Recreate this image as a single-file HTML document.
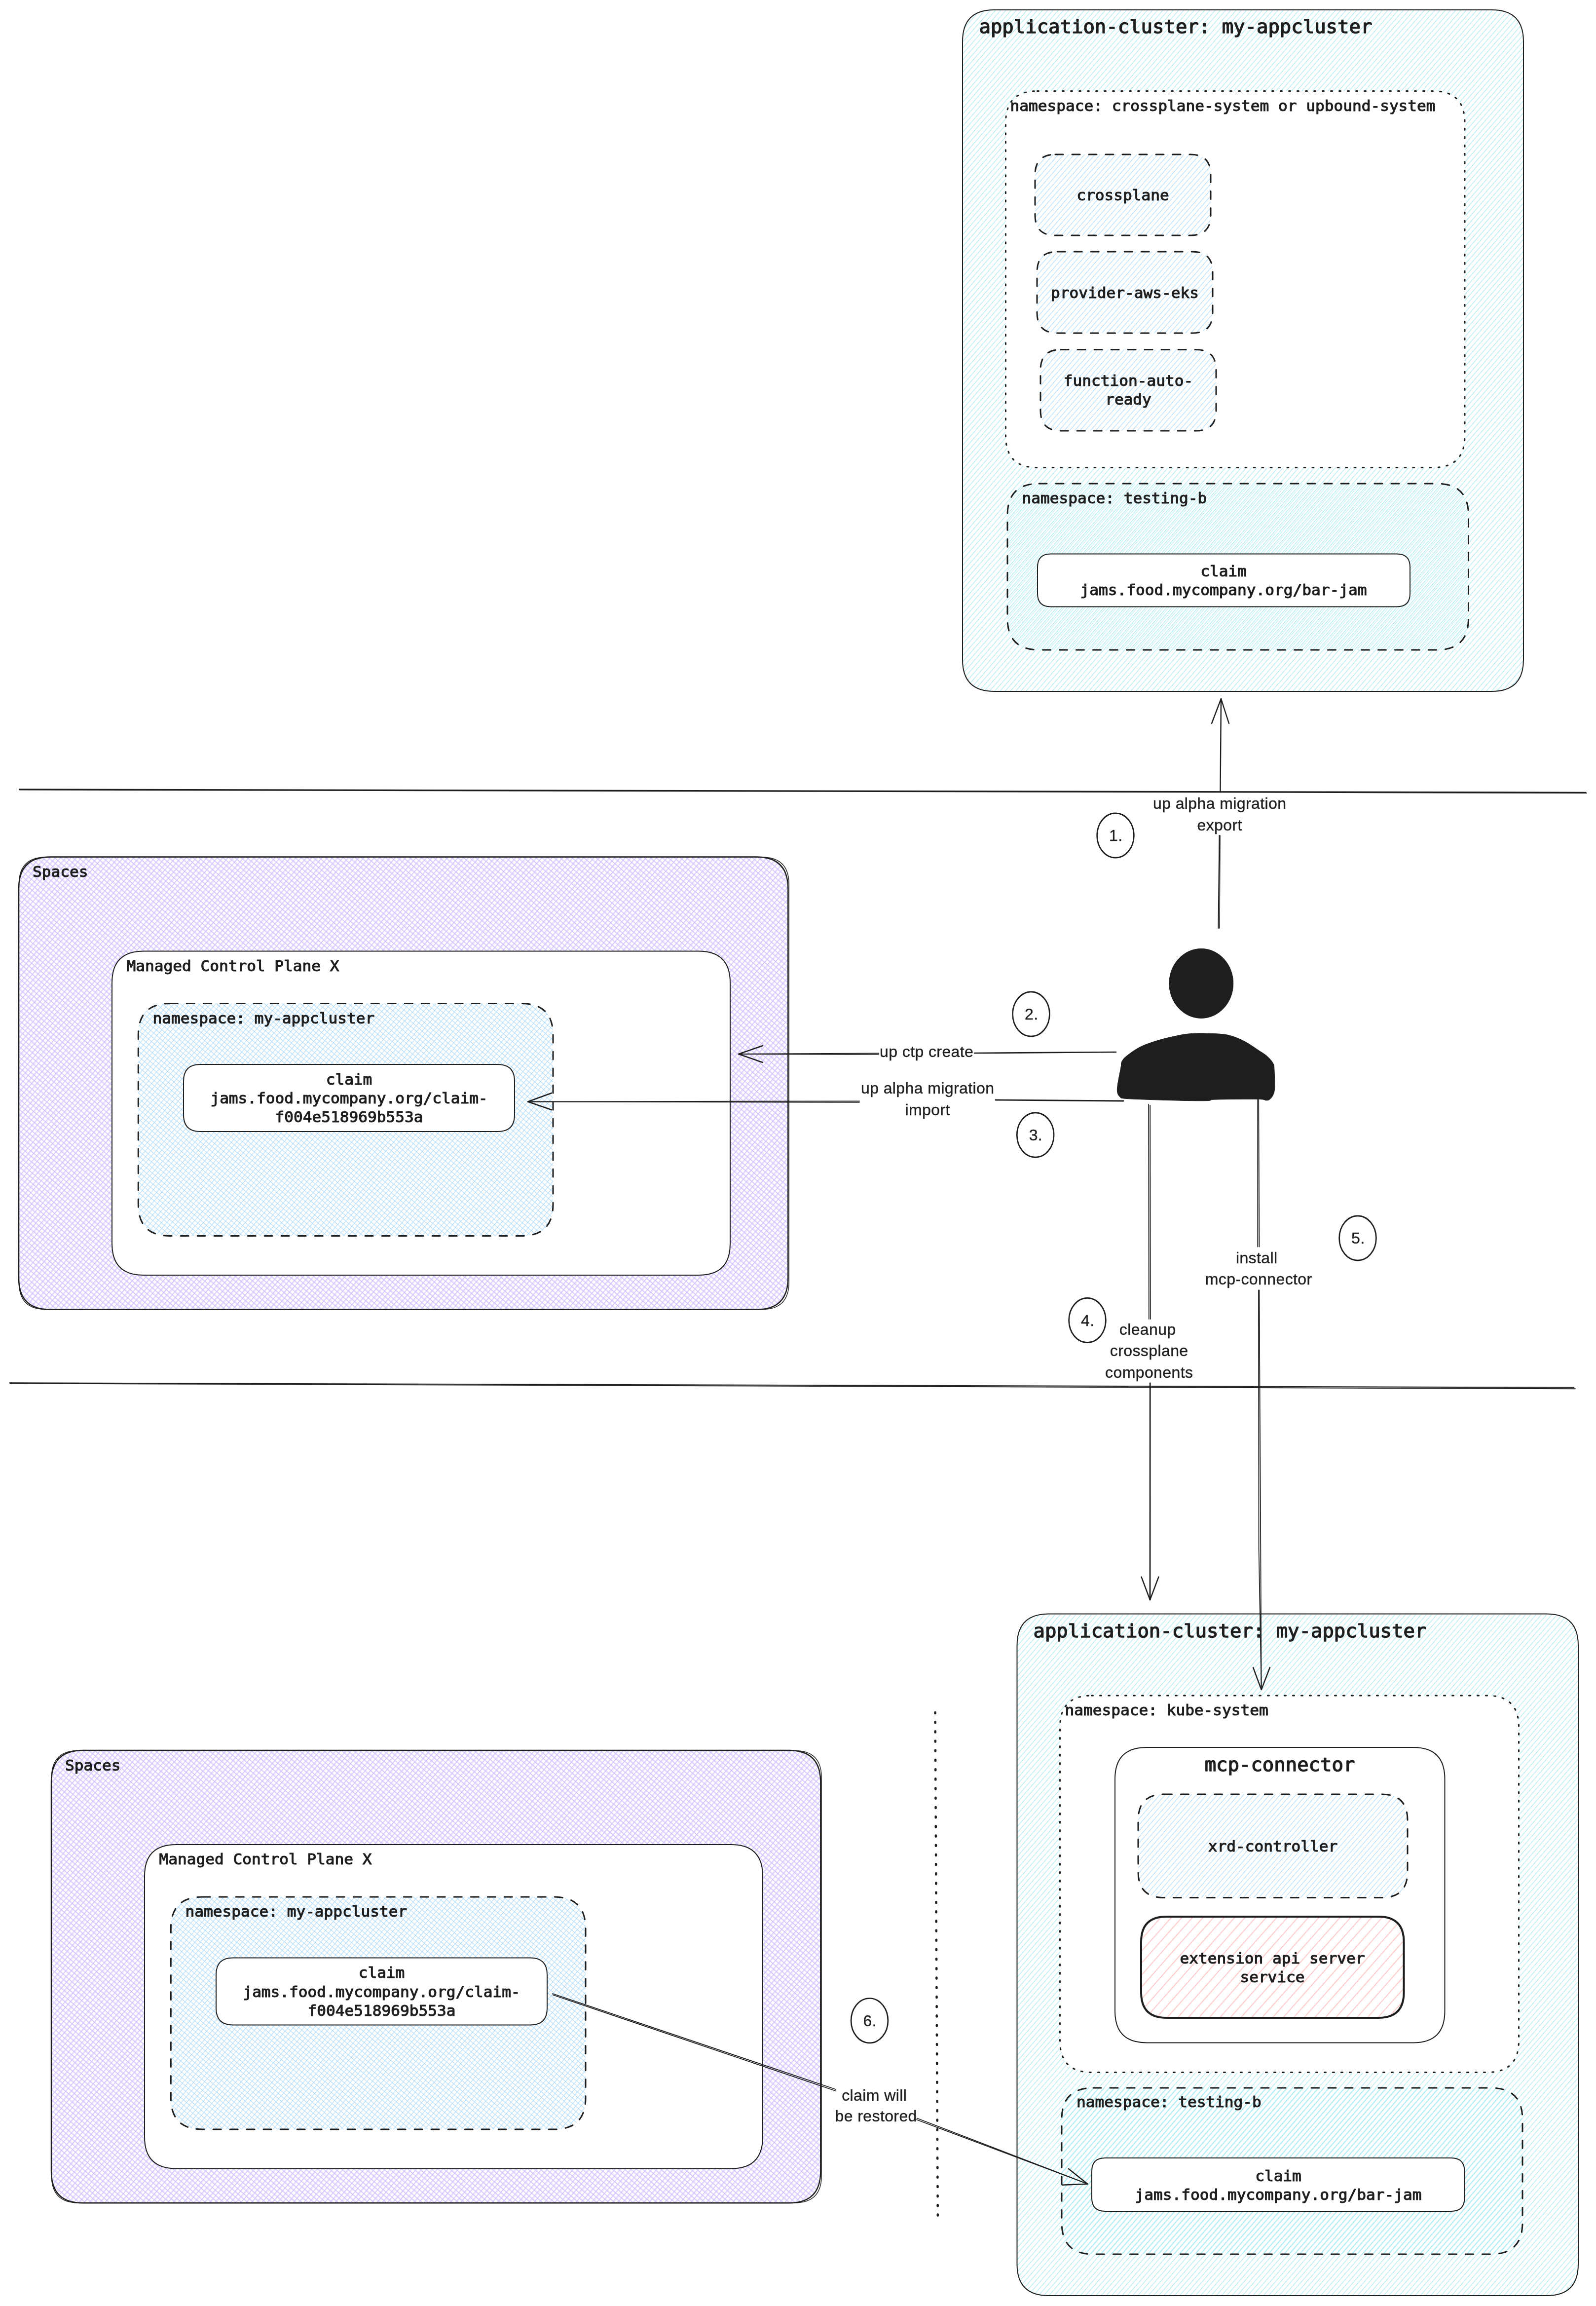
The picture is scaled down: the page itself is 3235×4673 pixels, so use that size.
<!DOCTYPE html>
<html><head><meta charset="utf-8"><title>migration diagram</title>
<style>
html,body{margin:0;padding:0;background:#fff;}
svg{display:block;will-change:transform;}
</style></head><body>
<svg width="3235" height="4673" viewBox="0 0 3235 4673">
<defs>
<pattern id="hcy" patternUnits="userSpaceOnUse" width="8" height="8" patternTransform="rotate(-49)"><rect x="0" y="0" width="8" height="1" fill="#99e9f2"/></pattern>
<pattern id="hcy2" patternUnits="userSpaceOnUse" width="8" height="8" patternTransform="rotate(-49) translate(0 3.3)"><rect x="0" y="0" width="8" height="1" fill="#99e9f2" fill-opacity="0.75"/></pattern>
<pattern id="hcy3" patternUnits="userSpaceOnUse" width="8" height="8" patternTransform="rotate(-49) translate(0 1)"><rect x="0" y="0" width="8" height="1" fill="#99e9f2" fill-opacity="0.8"/></pattern>
<pattern id="hbl" patternUnits="userSpaceOnUse" width="8" height="8" patternTransform="rotate(-49)"><rect x="0" y="0" width="8" height="1" fill="#a5d8ff"/></pattern>
<pattern id="hrd" patternUnits="userSpaceOnUse" width="16" height="16" patternTransform="rotate(-48.5)"><rect x="0" y="0" width="16" height="1.9" fill="#ffc9c9"/></pattern>
<pattern id="xpu" patternUnits="userSpaceOnUse" width="32" height="32" patternTransform="rotate(-49)"><rect x="0" y="0" width="32" height="1.3" fill="#d0bfff"/><rect x="0" y="0.6" width="32" height="1" fill="#d0bfff" fill-opacity="0.6"/><rect x="0" y="0" width="1.3" height="32" fill="#d0bfff"/><rect x="1.6" y="0" width="1" height="32" fill="#d0bfff" fill-opacity="0.6"/><rect x="0" y="8" width="32" height="1.3" fill="#d0bfff"/><rect x="0" y="9.8" width="32" height="1" fill="#d0bfff" fill-opacity="0.6"/><rect x="8" y="0" width="1.3" height="32" fill="#d0bfff"/><rect x="8.7" y="0" width="1" height="32" fill="#d0bfff" fill-opacity="0.6"/><rect x="0" y="16" width="32" height="1.3" fill="#d0bfff"/><rect x="0" y="17.1" width="32" height="1" fill="#d0bfff" fill-opacity="0.6"/><rect x="16" y="0" width="1.3" height="32" fill="#d0bfff"/><rect x="18.2" y="0" width="1" height="32" fill="#d0bfff" fill-opacity="0.6"/><rect x="0" y="24" width="32" height="1.3" fill="#d0bfff"/><rect x="0" y="26.4" width="32" height="1" fill="#d0bfff" fill-opacity="0.6"/><rect x="24" y="0" width="1.3" height="32" fill="#d0bfff"/><rect x="25.2" y="0" width="1" height="32" fill="#d0bfff" fill-opacity="0.6"/></pattern>
<pattern id="xbl" patternUnits="userSpaceOnUse" width="8" height="8" patternTransform="rotate(-49)"><rect x="0" y="0" width="8" height="1" fill="#a5d8ff"/><rect x="0" y="0" width="1" height="8" fill="#a5d8ff"/></pattern>
</defs>
<rect width="3235" height="4673" fill="#ffffff"/>
<path d="M39.0 1599.3 L3214.0 1605.7" fill="none" stroke="#1e1e1e" stroke-width="2" stroke-linecap="round" stroke-linejoin="round"/>
<path d="M40.0 1600.5 L3216.0 1607.0" fill="none" stroke="#1e1e1e" stroke-width="2" stroke-linecap="round" stroke-linejoin="round"/>
<path d="M19.5 2802.2 L3190.0 2811.6" fill="none" stroke="#1e1e1e" stroke-width="1.9" stroke-linecap="round" stroke-linejoin="round"/>
<path d="M20.5 2803.4 L3193.0 2814.3" fill="none" stroke="#1e1e1e" stroke-width="1.9" stroke-linecap="round" stroke-linejoin="round"/>
<path d="M2015.0 20.0 L3024.0 20.0 Q3088.0 20.0 3088.0 84.0 L3088.0 1337.0 Q3088.0 1401.0 3024.0 1401.0 L2015.0 1401.0 Q1951.0 1401.0 1951.0 1337.0 L1951.0 84.0 Q1951.0 20.0 2015.0 20.0 Z" fill="url(#hcy)" stroke="none"/>
<path d="M2015.0 20.0 L3024.0 20.0 Q3088.0 20.0 3088.0 84.0 L3088.0 1337.0 Q3088.0 1401.0 3024.0 1401.0 L2015.0 1401.0 Q1951.0 1401.0 1951.0 1337.0 L1951.0 84.0 Q1951.0 20.0 2015.0 20.0 Z" fill="none" stroke="#1e1e1e" stroke-width="2" stroke-linecap="round" stroke-linejoin="round"/>
<text transform="translate(1984.5 66.7) scale(1.0381 1)" font-family="'DejaVu Sans Mono','Liberation Mono',monospace" font-size="37.50" text-anchor="start" fill="#1e1e1e" stroke="#1e1e1e" stroke-width="1.44" stroke-linejoin="round">application-cluster: my-appcluster</text>
<path d="M2102.5 184.5 L2905.0 184.5 Q2969.0 184.5 2969.0 248.5 L2969.0 883.5 Q2969.0 947.5 2905.0 947.5 L2102.5 947.5 Q2038.5 947.5 2038.5 883.5 L2038.5 248.5 Q2038.5 184.5 2102.5 184.5 Z" fill="#ffffff" stroke="none"/>
<path d="M2102.5 184.5 L2905.0 184.5 Q2969.0 184.5 2969.0 248.5 L2969.0 883.5 Q2969.0 947.5 2905.0 947.5 L2102.5 947.5 Q2038.5 947.5 2038.5 883.5 L2038.5 248.5 Q2038.5 184.5 2102.5 184.5 Z" fill="none" stroke="#1e1e1e" stroke-width="3" stroke-linecap="round" stroke-linejoin="round" stroke-dasharray="3 14"/>
<text transform="translate(2047.5 224.6) scale(1.0381 1)" font-family="'DejaVu Sans Mono','Liberation Mono',monospace" font-size="30.00" text-anchor="start" fill="#1e1e1e" stroke="#1e1e1e" stroke-width="1.15" stroke-linejoin="round">namespace: crossplane-system or upbound-system</text>
<path d="M2139.0 313.0 L2413.0 313.0 Q2454.0 313.0 2454.0 354.0 L2454.0 436.0 Q2454.0 477.0 2413.0 477.0 L2139.0 477.0 Q2098.0 477.0 2098.0 436.0 L2098.0 354.0 Q2098.0 313.0 2139.0 313.0 Z" fill="url(#hbl)" stroke="none"/>
<path d="M2139.0 313.0 L2413.0 313.0 Q2454.0 313.0 2454.0 354.0 L2454.0 436.0 Q2454.0 477.0 2413.0 477.0 L2139.0 477.0 Q2098.0 477.0 2098.0 436.0 L2098.0 354.0 Q2098.0 313.0 2139.0 313.0 Z" fill="none" stroke="#1e1e1e" stroke-width="3" stroke-linecap="round" stroke-linejoin="round" stroke-dasharray="16 18"/>
<text transform="translate(2276.0 406.0) scale(1.0381 1)" font-family="'DejaVu Sans Mono','Liberation Mono',monospace" font-size="30.00" text-anchor="middle" fill="#1e1e1e" stroke="#1e1e1e" stroke-width="1.15" stroke-linejoin="round">crossplane</text>
<path d="M2143.2 510.0 L2416.8 510.0 Q2458.0 510.0 2458.0 551.2 L2458.0 633.8 Q2458.0 675.0 2416.8 675.0 L2143.2 675.0 Q2102.0 675.0 2102.0 633.8 L2102.0 551.2 Q2102.0 510.0 2143.2 510.0 Z" fill="url(#hbl)" stroke="none"/>
<path d="M2143.2 510.0 L2416.8 510.0 Q2458.0 510.0 2458.0 551.2 L2458.0 633.8 Q2458.0 675.0 2416.8 675.0 L2143.2 675.0 Q2102.0 675.0 2102.0 633.8 L2102.0 551.2 Q2102.0 510.0 2143.2 510.0 Z" fill="none" stroke="#1e1e1e" stroke-width="3" stroke-linecap="round" stroke-linejoin="round" stroke-dasharray="16 18"/>
<text transform="translate(2280.0 603.5) scale(1.0381 1)" font-family="'DejaVu Sans Mono','Liberation Mono',monospace" font-size="30.00" text-anchor="middle" fill="#1e1e1e" stroke="#1e1e1e" stroke-width="1.15" stroke-linejoin="round">provider-aws-eks</text>
<path d="M2150.1 708.5 L2423.9 708.5 Q2465.0 708.5 2465.0 749.6 L2465.0 831.9 Q2465.0 873.0 2423.9 873.0 L2150.1 873.0 Q2109.0 873.0 2109.0 831.9 L2109.0 749.6 Q2109.0 708.5 2150.1 708.5 Z" fill="url(#hbl)" stroke="none"/>
<path d="M2150.1 708.5 L2423.9 708.5 Q2465.0 708.5 2465.0 749.6 L2465.0 831.9 Q2465.0 873.0 2423.9 873.0 L2150.1 873.0 Q2109.0 873.0 2109.0 831.9 L2109.0 749.6 Q2109.0 708.5 2150.1 708.5 Z" fill="none" stroke="#1e1e1e" stroke-width="3" stroke-linecap="round" stroke-linejoin="round" stroke-dasharray="16 18"/>
<text transform="translate(2287.0 781.5) scale(1.0381 1)" font-family="'DejaVu Sans Mono','Liberation Mono',monospace" font-size="30.00" text-anchor="middle" fill="#1e1e1e" stroke="#1e1e1e" stroke-width="1.15" stroke-linejoin="round">function-auto-</text>
<text transform="translate(2287.0 820.0) scale(1.0381 1)" font-family="'DejaVu Sans Mono','Liberation Mono',monospace" font-size="30.00" text-anchor="middle" fill="#1e1e1e" stroke="#1e1e1e" stroke-width="1.15" stroke-linejoin="round">ready</text>
<path d="M2106.0 980.0 L2912.5 980.0 Q2976.5 980.0 2976.5 1044.0 L2976.5 1253.0 Q2976.5 1317.0 2912.5 1317.0 L2106.0 1317.0 Q2042.0 1317.0 2042.0 1253.0 L2042.0 1044.0 Q2042.0 980.0 2106.0 980.0 Z" fill="url(#hcy2)" stroke="none"/>
<path d="M2106.0 980.0 L2912.5 980.0 Q2976.5 980.0 2976.5 1044.0 L2976.5 1253.0 Q2976.5 1317.0 2912.5 1317.0 L2106.0 1317.0 Q2042.0 1317.0 2042.0 1253.0 L2042.0 1044.0 Q2042.0 980.0 2106.0 980.0 Z" fill="none" stroke="#1e1e1e" stroke-width="3" stroke-linecap="round" stroke-linejoin="round" stroke-dasharray="16 18"/>
<text transform="translate(2071.5 1019.5) scale(1.0381 1)" font-family="'DejaVu Sans Mono','Liberation Mono',monospace" font-size="30.00" text-anchor="start" fill="#1e1e1e" stroke="#1e1e1e" stroke-width="1.15" stroke-linejoin="round">namespace: testing-b</text>
<path d="M2129.8 1122.5 L2831.2 1122.5 Q2858.0 1122.5 2858.0 1149.2 L2858.0 1202.8 Q2858.0 1229.5 2831.2 1229.5 L2129.8 1229.5 Q2103.0 1229.5 2103.0 1202.8 L2103.0 1149.2 Q2103.0 1122.5 2129.8 1122.5 Z" fill="#ffffff" stroke="none"/>
<path d="M2129.8 1122.5 L2831.2 1122.5 Q2858.0 1122.5 2858.0 1149.2 L2858.0 1202.8 Q2858.0 1229.5 2831.2 1229.5 L2129.8 1229.5 Q2103.0 1229.5 2103.0 1202.8 L2103.0 1149.2 Q2103.0 1122.5 2129.8 1122.5 Z" fill="none" stroke="#1e1e1e" stroke-width="2" stroke-linecap="round" stroke-linejoin="round"/>
<text transform="translate(2480.0 1167.5) scale(1.0381 1)" font-family="'DejaVu Sans Mono','Liberation Mono',monospace" font-size="30.00" text-anchor="middle" fill="#1e1e1e" stroke="#1e1e1e" stroke-width="1.15" stroke-linejoin="round">claim</text>
<text transform="translate(2480.0 1206.0) scale(1.0381 1)" font-family="'DejaVu Sans Mono','Liberation Mono',monospace" font-size="30.00" text-anchor="middle" fill="#1e1e1e" stroke="#1e1e1e" stroke-width="1.15" stroke-linejoin="round">jams.food.mycompany.org/bar-jam</text>
<path d="M102.0 1736.5 L1533.3 1736.5 Q1597.3 1736.5 1597.3 1800.5 L1597.3 2589.8 Q1597.3 2653.8 1533.3 2653.8 L102.0 2653.8 Q38.0 2653.8 38.0 2589.8 L38.0 1800.5 Q38.0 1736.5 102.0 1736.5 Z" fill="url(#xpu)" stroke="none"/>
<path d="M102.0 1736.5 L1533.3 1736.5 Q1597.3 1736.5 1597.3 1800.5 L1597.3 2589.8 Q1597.3 2653.8 1533.3 2653.8 L102.0 2653.8 Q38.0 2653.8 38.0 2589.8 L38.0 1800.5 Q38.0 1736.5 102.0 1736.5 Z" fill="none" stroke="#1e1e1e" stroke-width="2.4" stroke-linecap="round" stroke-linejoin="round"/>
<path d="M93.4 1736.9 L1544.2 1736.9 Q1599.2 1736.9 1599.2 1791.9 L1599.2 2598.5 Q1599.2 2653.5 1544.2 2653.5 L93.4 2653.5 Q38.4 2653.5 38.4 2598.5 L38.4 1791.9 Q38.4 1736.9 93.4 1736.9 Z" fill="none" stroke="#1e1e1e" stroke-width="1.4" stroke-linejoin="round"/>
<text transform="translate(66.0 1777.0) scale(1.0381 1)" font-family="'DejaVu Sans Mono','Liberation Mono',monospace" font-size="30.00" text-anchor="start" fill="#1e1e1e" stroke="#1e1e1e" stroke-width="1.15" stroke-linejoin="round">Spaces</text>
<path d="M291.0 1927.5 L1416.0 1927.5 Q1480.0 1927.5 1480.0 1991.5 L1480.0 2520.0 Q1480.0 2584.0 1416.0 2584.0 L291.0 2584.0 Q227.0 2584.0 227.0 2520.0 L227.0 1991.5 Q227.0 1927.5 291.0 1927.5 Z" fill="#ffffff" stroke="none"/>
<path d="M291.0 1927.5 L1416.0 1927.5 Q1480.0 1927.5 1480.0 1991.5 L1480.0 2520.0 Q1480.0 2584.0 1416.0 2584.0 L291.0 2584.0 Q227.0 2584.0 227.0 2520.0 L227.0 1991.5 Q227.0 1927.5 291.0 1927.5 Z" fill="none" stroke="#1e1e1e" stroke-width="2" stroke-linecap="round" stroke-linejoin="round"/>
<text transform="translate(256.5 1967.5) scale(1.0381 1)" font-family="'DejaVu Sans Mono','Liberation Mono',monospace" font-size="30.00" text-anchor="start" fill="#1e1e1e" stroke="#1e1e1e" stroke-width="1.15" stroke-linejoin="round">Managed Control Plane X</text>
<path d="M344.3 2033.5 L1057.0 2033.5 Q1121.0 2033.5 1121.0 2097.5 L1121.0 2440.5 Q1121.0 2504.5 1057.0 2504.5 L344.3 2504.5 Q280.3 2504.5 280.3 2440.5 L280.3 2097.5 Q280.3 2033.5 344.3 2033.5 Z" fill="url(#xbl)" stroke="none"/>
<path d="M344.3 2033.5 L1057.0 2033.5 Q1121.0 2033.5 1121.0 2097.5 L1121.0 2440.5 Q1121.0 2504.5 1057.0 2504.5 L344.3 2504.5 Q280.3 2504.5 280.3 2440.5 L280.3 2097.5 Q280.3 2033.5 344.3 2033.5 Z" fill="none" stroke="#1e1e1e" stroke-width="3" stroke-linecap="round" stroke-linejoin="round" stroke-dasharray="16 18"/>
<text transform="translate(309.5 2073.5) scale(1.0381 1)" font-family="'DejaVu Sans Mono','Liberation Mono',monospace" font-size="30.00" text-anchor="start" fill="#1e1e1e" stroke="#1e1e1e" stroke-width="1.15" stroke-linejoin="round">namespace: my-appcluster</text>
<path d="M406.0 2157.0 L1009.0 2157.0 Q1043.0 2157.0 1043.0 2191.0 L1043.0 2259.0 Q1043.0 2293.0 1009.0 2293.0 L406.0 2293.0 Q372.0 2293.0 372.0 2259.0 L372.0 2191.0 Q372.0 2157.0 406.0 2157.0 Z" fill="#ffffff" stroke="none"/>
<path d="M406.0 2157.0 L1009.0 2157.0 Q1043.0 2157.0 1043.0 2191.0 L1043.0 2259.0 Q1043.0 2293.0 1009.0 2293.0 L406.0 2293.0 Q372.0 2293.0 372.0 2259.0 L372.0 2191.0 Q372.0 2157.0 406.0 2157.0 Z" fill="none" stroke="#1e1e1e" stroke-width="2" stroke-linecap="round" stroke-linejoin="round"/>
<text transform="translate(707.5 2197.5) scale(1.0381 1)" font-family="'DejaVu Sans Mono','Liberation Mono',monospace" font-size="30.00" text-anchor="middle" fill="#1e1e1e" stroke="#1e1e1e" stroke-width="1.15" stroke-linejoin="round">claim</text>
<text transform="translate(707.5 2236.0) scale(1.0381 1)" font-family="'DejaVu Sans Mono','Liberation Mono',monospace" font-size="30.00" text-anchor="middle" fill="#1e1e1e" stroke="#1e1e1e" stroke-width="1.15" stroke-linejoin="round">jams.food.mycompany.org/claim-</text>
<text transform="translate(707.5 2274.3) scale(1.0381 1)" font-family="'DejaVu Sans Mono','Liberation Mono',monospace" font-size="30.00" text-anchor="middle" fill="#1e1e1e" stroke="#1e1e1e" stroke-width="1.15" stroke-linejoin="round">f004e518969b553a</text>
<path d="M168.0 3547.0 L1599.3 3547.0 Q1663.3 3547.0 1663.3 3611.0 L1663.3 4400.3 Q1663.3 4464.3 1599.3 4464.3 L168.0 4464.3 Q104.0 4464.3 104.0 4400.3 L104.0 3611.0 Q104.0 3547.0 168.0 3547.0 Z" fill="url(#xpu)" stroke="none"/>
<path d="M168.0 3547.0 L1599.3 3547.0 Q1663.3 3547.0 1663.3 3611.0 L1663.3 4400.3 Q1663.3 4464.3 1599.3 4464.3 L168.0 4464.3 Q104.0 4464.3 104.0 4400.3 L104.0 3611.0 Q104.0 3547.0 168.0 3547.0 Z" fill="none" stroke="#1e1e1e" stroke-width="2.4" stroke-linecap="round" stroke-linejoin="round"/>
<path d="M159.4 3547.4 L1610.2 3547.4 Q1665.2 3547.4 1665.2 3602.4 L1665.2 4409.0 Q1665.2 4464.0 1610.2 4464.0 L159.4 4464.0 Q104.4 4464.0 104.4 4409.0 L104.4 3602.4 Q104.4 3547.4 159.4 3547.4 Z" fill="none" stroke="#1e1e1e" stroke-width="1.4" stroke-linejoin="round"/>
<text transform="translate(132.0 3587.5) scale(1.0381 1)" font-family="'DejaVu Sans Mono','Liberation Mono',monospace" font-size="30.00" text-anchor="start" fill="#1e1e1e" stroke="#1e1e1e" stroke-width="1.15" stroke-linejoin="round">Spaces</text>
<path d="M357.0 3738.0 L1482.0 3738.0 Q1546.0 3738.0 1546.0 3802.0 L1546.0 4330.5 Q1546.0 4394.5 1482.0 4394.5 L357.0 4394.5 Q293.0 4394.5 293.0 4330.5 L293.0 3802.0 Q293.0 3738.0 357.0 3738.0 Z" fill="#ffffff" stroke="none"/>
<path d="M357.0 3738.0 L1482.0 3738.0 Q1546.0 3738.0 1546.0 3802.0 L1546.0 4330.5 Q1546.0 4394.5 1482.0 4394.5 L357.0 4394.5 Q293.0 4394.5 293.0 4330.5 L293.0 3802.0 Q293.0 3738.0 357.0 3738.0 Z" fill="none" stroke="#1e1e1e" stroke-width="2" stroke-linecap="round" stroke-linejoin="round"/>
<text transform="translate(322.5 3778.0) scale(1.0381 1)" font-family="'DejaVu Sans Mono','Liberation Mono',monospace" font-size="30.00" text-anchor="start" fill="#1e1e1e" stroke="#1e1e1e" stroke-width="1.15" stroke-linejoin="round">Managed Control Plane X</text>
<path d="M410.3 3844.0 L1123.0 3844.0 Q1187.0 3844.0 1187.0 3908.0 L1187.0 4251.0 Q1187.0 4315.0 1123.0 4315.0 L410.3 4315.0 Q346.3 4315.0 346.3 4251.0 L346.3 3908.0 Q346.3 3844.0 410.3 3844.0 Z" fill="url(#xbl)" stroke="none"/>
<path d="M410.3 3844.0 L1123.0 3844.0 Q1187.0 3844.0 1187.0 3908.0 L1187.0 4251.0 Q1187.0 4315.0 1123.0 4315.0 L410.3 4315.0 Q346.3 4315.0 346.3 4251.0 L346.3 3908.0 Q346.3 3844.0 410.3 3844.0 Z" fill="none" stroke="#1e1e1e" stroke-width="3" stroke-linecap="round" stroke-linejoin="round" stroke-dasharray="16 18"/>
<text transform="translate(375.5 3884.0) scale(1.0381 1)" font-family="'DejaVu Sans Mono','Liberation Mono',monospace" font-size="30.00" text-anchor="start" fill="#1e1e1e" stroke="#1e1e1e" stroke-width="1.15" stroke-linejoin="round">namespace: my-appcluster</text>
<path d="M472.0 3967.5 L1075.0 3967.5 Q1109.0 3967.5 1109.0 4001.5 L1109.0 4069.5 Q1109.0 4103.5 1075.0 4103.5 L472.0 4103.5 Q438.0 4103.5 438.0 4069.5 L438.0 4001.5 Q438.0 3967.5 472.0 3967.5 Z" fill="#ffffff" stroke="none"/>
<path d="M472.0 3967.5 L1075.0 3967.5 Q1109.0 3967.5 1109.0 4001.5 L1109.0 4069.5 Q1109.0 4103.5 1075.0 4103.5 L472.0 4103.5 Q438.0 4103.5 438.0 4069.5 L438.0 4001.5 Q438.0 3967.5 472.0 3967.5 Z" fill="none" stroke="#1e1e1e" stroke-width="2" stroke-linecap="round" stroke-linejoin="round"/>
<text transform="translate(773.5 4008.0) scale(1.0381 1)" font-family="'DejaVu Sans Mono','Liberation Mono',monospace" font-size="30.00" text-anchor="middle" fill="#1e1e1e" stroke="#1e1e1e" stroke-width="1.15" stroke-linejoin="round">claim</text>
<text transform="translate(773.5 4046.5) scale(1.0381 1)" font-family="'DejaVu Sans Mono','Liberation Mono',monospace" font-size="30.00" text-anchor="middle" fill="#1e1e1e" stroke="#1e1e1e" stroke-width="1.15" stroke-linejoin="round">jams.food.mycompany.org/claim-</text>
<text transform="translate(773.5 4084.8) scale(1.0381 1)" font-family="'DejaVu Sans Mono','Liberation Mono',monospace" font-size="30.00" text-anchor="middle" fill="#1e1e1e" stroke="#1e1e1e" stroke-width="1.15" stroke-linejoin="round">f004e518969b553a</text>
<path d="M2125.5 3270.5 L3135.0 3270.5 Q3199.0 3270.5 3199.0 3334.5 L3199.0 4588.0 Q3199.0 4652.0 3135.0 4652.0 L2125.5 4652.0 Q2061.5 4652.0 2061.5 4588.0 L2061.5 3334.5 Q2061.5 3270.5 2125.5 3270.5 Z" fill="url(#hcy)" stroke="none"/>
<path d="M2125.5 3270.5 L3135.0 3270.5 Q3199.0 3270.5 3199.0 3334.5 L3199.0 4588.0 Q3199.0 4652.0 3135.0 4652.0 L2125.5 4652.0 Q2061.5 4652.0 2061.5 4588.0 L2061.5 3334.5 Q2061.5 3270.5 2125.5 3270.5 Z" fill="none" stroke="#1e1e1e" stroke-width="2" stroke-linecap="round" stroke-linejoin="round"/>
<text transform="translate(2094.5 3318.0) scale(1.0381 1)" font-family="'DejaVu Sans Mono','Liberation Mono',monospace" font-size="37.50" text-anchor="start" fill="#1e1e1e" stroke="#1e1e1e" stroke-width="1.44" stroke-linejoin="round">application-cluster: my-appcluster</text>
<path d="M2212.5 3436.0 L3014.5 3436.0 Q3078.5 3436.0 3078.5 3500.0 L3078.5 4135.5 Q3078.5 4199.5 3014.5 4199.5 L2212.5 4199.5 Q2148.5 4199.5 2148.5 4135.5 L2148.5 3500.0 Q2148.5 3436.0 2212.5 3436.0 Z" fill="#ffffff" stroke="none"/>
<path d="M2212.5 3436.0 L3014.5 3436.0 Q3078.5 3436.0 3078.5 3500.0 L3078.5 4135.5 Q3078.5 4199.5 3014.5 4199.5 L2212.5 4199.5 Q2148.5 4199.5 2148.5 4135.5 L2148.5 3500.0 Q2148.5 3436.0 2212.5 3436.0 Z" fill="none" stroke="#1e1e1e" stroke-width="3" stroke-linecap="round" stroke-linejoin="round" stroke-dasharray="3 14"/>
<text transform="translate(2158.5 3475.5) scale(1.0381 1)" font-family="'DejaVu Sans Mono','Liberation Mono',monospace" font-size="30.00" text-anchor="start" fill="#1e1e1e" stroke="#1e1e1e" stroke-width="1.15" stroke-linejoin="round">namespace: kube-system</text>
<path d="M2324.0 3541.0 L2864.5 3541.0 Q2928.5 3541.0 2928.5 3605.0 L2928.5 4075.5 Q2928.5 4139.5 2864.5 4139.5 L2324.0 4139.5 Q2260.0 4139.5 2260.0 4075.5 L2260.0 3605.0 Q2260.0 3541.0 2324.0 3541.0 Z" fill="#ffffff" stroke="none"/>
<path d="M2324.0 3541.0 L2864.5 3541.0 Q2928.5 3541.0 2928.5 3605.0 L2928.5 4075.5 Q2928.5 4139.5 2864.5 4139.5 L2324.0 4139.5 Q2260.0 4139.5 2260.0 4075.5 L2260.0 3605.0 Q2260.0 3541.0 2324.0 3541.0 Z" fill="none" stroke="#1e1e1e" stroke-width="2" stroke-linecap="round" stroke-linejoin="round"/>
<text transform="translate(2594.0 3588.7) scale(1.0381 1)" font-family="'DejaVu Sans Mono','Liberation Mono',monospace" font-size="37.50" text-anchor="middle" fill="#1e1e1e" stroke="#1e1e1e" stroke-width="1.44" stroke-linejoin="round">mcp-connector</text>
<path d="M2359.4 3636.0 L2800.6 3636.0 Q2853.0 3636.0 2853.0 3688.4 L2853.0 3793.1 Q2853.0 3845.5 2800.6 3845.5 L2359.4 3845.5 Q2307.0 3845.5 2307.0 3793.1 L2307.0 3688.4 Q2307.0 3636.0 2359.4 3636.0 Z" fill="url(#hbl)" stroke="none"/>
<path d="M2359.4 3636.0 L2800.6 3636.0 Q2853.0 3636.0 2853.0 3688.4 L2853.0 3793.1 Q2853.0 3845.5 2800.6 3845.5 L2359.4 3845.5 Q2307.0 3845.5 2307.0 3793.1 L2307.0 3688.4 Q2307.0 3636.0 2359.4 3636.0 Z" fill="none" stroke="#1e1e1e" stroke-width="3" stroke-linecap="round" stroke-linejoin="round" stroke-dasharray="16 18"/>
<text transform="translate(2580.0 3752.0) scale(1.0381 1)" font-family="'DejaVu Sans Mono','Liberation Mono',monospace" font-size="30.00" text-anchor="middle" fill="#1e1e1e" stroke="#1e1e1e" stroke-width="1.15" stroke-linejoin="round">xrd-controller</text>
<path d="M2364.2 3884.0 L2794.2 3884.0 Q2845.5 3884.0 2845.5 3935.2 L2845.5 4037.8 Q2845.5 4089.0 2794.2 4089.0 L2364.2 4089.0 Q2313.0 4089.0 2313.0 4037.8 L2313.0 3935.2 Q2313.0 3884.0 2364.2 3884.0 Z" fill="url(#hrd)" stroke="none"/>
<path d="M2364.2 3884.0 L2794.2 3884.0 Q2845.5 3884.0 2845.5 3935.2 L2845.5 4037.8 Q2845.5 4089.0 2794.2 4089.0 L2364.2 4089.0 Q2313.0 4089.0 2313.0 4037.8 L2313.0 3935.2 Q2313.0 3884.0 2364.2 3884.0 Z" fill="none" stroke="#1e1e1e" stroke-width="4" stroke-linecap="round" stroke-linejoin="round"/>
<text transform="translate(2579.0 3978.5) scale(1.0381 1)" font-family="'DejaVu Sans Mono','Liberation Mono',monospace" font-size="30.00" text-anchor="middle" fill="#1e1e1e" stroke="#1e1e1e" stroke-width="1.15" stroke-linejoin="round">extension api server</text>
<text transform="translate(2579.0 4017.0) scale(1.0381 1)" font-family="'DejaVu Sans Mono','Liberation Mono',monospace" font-size="30.00" text-anchor="middle" fill="#1e1e1e" stroke="#1e1e1e" stroke-width="1.15" stroke-linejoin="round">service</text>
<path d="M2216.0 4231.0 L3022.0 4231.0 Q3086.0 4231.0 3086.0 4295.0 L3086.0 4504.0 Q3086.0 4568.0 3022.0 4568.0 L2216.0 4568.0 Q2152.0 4568.0 2152.0 4504.0 L2152.0 4295.0 Q2152.0 4231.0 2216.0 4231.0 Z" fill="url(#hcy3)" stroke="none"/>
<path d="M2216.0 4231.0 L3022.0 4231.0 Q3086.0 4231.0 3086.0 4295.0 L3086.0 4504.0 Q3086.0 4568.0 3022.0 4568.0 L2216.0 4568.0 Q2152.0 4568.0 2152.0 4504.0 L2152.0 4295.0 Q2152.0 4231.0 2216.0 4231.0 Z" fill="none" stroke="#1e1e1e" stroke-width="3" stroke-linecap="round" stroke-linejoin="round" stroke-dasharray="16 18"/>
<text transform="translate(2182.0 4270.0) scale(1.0381 1)" font-family="'DejaVu Sans Mono','Liberation Mono',monospace" font-size="30.00" text-anchor="start" fill="#1e1e1e" stroke="#1e1e1e" stroke-width="1.15" stroke-linejoin="round">namespace: testing-b</text>
<path d="M2240.0 4373.0 L2941.5 4373.0 Q2968.5 4373.0 2968.5 4400.0 L2968.5 4454.0 Q2968.5 4481.0 2941.5 4481.0 L2240.0 4481.0 Q2213.0 4481.0 2213.0 4454.0 L2213.0 4400.0 Q2213.0 4373.0 2240.0 4373.0 Z" fill="#ffffff" stroke="none"/>
<path d="M2240.0 4373.0 L2941.5 4373.0 Q2968.5 4373.0 2968.5 4400.0 L2968.5 4454.0 Q2968.5 4481.0 2941.5 4481.0 L2240.0 4481.0 Q2213.0 4481.0 2213.0 4454.0 L2213.0 4400.0 Q2213.0 4373.0 2240.0 4373.0 Z" fill="none" stroke="#1e1e1e" stroke-width="2" stroke-linecap="round" stroke-linejoin="round"/>
<text transform="translate(2591.0 4419.5) scale(1.0381 1)" font-family="'DejaVu Sans Mono','Liberation Mono',monospace" font-size="30.00" text-anchor="middle" fill="#1e1e1e" stroke="#1e1e1e" stroke-width="1.15" stroke-linejoin="round">claim</text>
<text transform="translate(2591.0 4458.0) scale(1.0381 1)" font-family="'DejaVu Sans Mono','Liberation Mono',monospace" font-size="30.00" text-anchor="middle" fill="#1e1e1e" stroke="#1e1e1e" stroke-width="1.15" stroke-linejoin="round">jams.food.mycompany.org/bar-jam</text>
<path d="M1895.6 3470 L1900.8 4490" fill="none" stroke="#1e1e1e" stroke-width="4.6" stroke-linecap="round" stroke-dasharray="2 17.2"/>
<ellipse cx="2434.8" cy="1992.9" rx="64.9" ry="70.5" fill="#1e1e1e" stroke="#1e1e1e" stroke-width="1"/>
<path d="M2406.7 2095.2 C2415.4 2094.3 2423.3 2094.0 2435.2 2094.0 C2447.1 2094.1 2467.0 2094.5 2478.1 2095.7 C2489.2 2096.9 2494.0 2098.5 2501.9 2101.2 C2509.8 2103.9 2517.8 2107.5 2525.7 2111.9 C2533.7 2116.3 2542.4 2122.6 2549.5 2127.4 C2556.7 2132.1 2563.4 2135.9 2568.6 2140.5 C2573.7 2145.0 2578.1 2150.4 2580.5 2154.8 C2582.9 2159.1 2582.3 2158.3 2582.9 2166.7 C2583.4 2175.0 2584.0 2196.0 2583.6 2204.8 C2583.2 2213.5 2582.2 2215.2 2580.5 2219.0 C2578.8 2222.9 2575.7 2226.3 2573.3 2228.1 C2571.0 2229.9 2570.2 2229.9 2566.2 2229.8 C2562.2 2229.6 2566.6 2227.7 2549.5 2227.4 C2532.5 2227.1 2480.5 2227.6 2463.8 2228.1 C2447.1 2228.6 2459.0 2230.1 2449.5 2230.5 C2440.0 2230.9 2425.7 2230.8 2406.7 2230.5 C2387.6 2230.2 2356.3 2229.3 2335.2 2228.6 C2314.2 2227.9 2291.4 2227.2 2280.5 2226.2 C2269.6 2225.2 2272.4 2225.0 2269.8 2222.6 C2267.1 2220.2 2265.1 2216.9 2264.5 2211.9 C2263.9 2206.9 2264.9 2201.2 2266.2 2192.9 C2267.5 2184.5 2271.0 2168.7 2272.1 2161.9 C2273.3 2155.2 2271.5 2156.0 2273.3 2152.4 C2275.1 2148.8 2276.5 2145.6 2282.9 2140.5 C2289.2 2135.3 2300.7 2126.8 2311.4 2121.4 C2322.1 2116.1 2335.2 2112.0 2347.1 2108.3 C2359.0 2104.7 2372.9 2101.7 2382.9 2099.5 C2392.8 2097.3 2397.9 2096.2 2406.7 2095.2 Z" fill="#1e1e1e" stroke="#1e1e1e" stroke-width="1"/>
<path d="M2469.5 1881.0 L2471.5 1693.0" fill="none" stroke="#1e1e1e" stroke-width="2" stroke-linecap="round" stroke-linejoin="round"/>
<path d="M2472.0 1881.0 L2473.0 1693.0" fill="none" stroke="#1e1e1e" stroke-width="1.6" stroke-linecap="round" stroke-linejoin="round"/>
<path d="M2473.5 1603.0 L2475.0 1416.0" fill="none" stroke="#1e1e1e" stroke-width="2.4" stroke-linecap="round" stroke-linejoin="round"/>
<path d="M2456.0 1466.0 L2475.0 1416.0 L2491.0 1466.0" fill="none" stroke="#1e1e1e" stroke-width="2.4" stroke-linecap="round" stroke-linejoin="round"/>
<text x="2472.2" y="1639.0" font-family="'Liberation Sans','DejaVu Sans',sans-serif" font-size="32" letter-spacing="0.4" text-anchor="middle" fill="#1e1e1e" stroke="#1e1e1e" stroke-width="0.4">up alpha migration</text>
<text x="2472.2" y="1682.8" font-family="'Liberation Sans','DejaVu Sans',sans-serif" font-size="32" letter-spacing="0.4" text-anchor="middle" fill="#1e1e1e" stroke="#1e1e1e" stroke-width="0.4">export</text>
<path d="M2262.0 2132.0 L1975.0 2134.0" fill="none" stroke="#1e1e1e" stroke-width="2.6" stroke-linecap="round" stroke-linejoin="round"/>
<path d="M1781.0 2134.5 L1497.0 2136.0" fill="none" stroke="#1e1e1e" stroke-width="2" stroke-linecap="round" stroke-linejoin="round"/>
<path d="M1781.0 2137.0 L1497.0 2136.0" fill="none" stroke="#1e1e1e" stroke-width="1.6" stroke-linecap="round" stroke-linejoin="round"/>
<path d="M1546.0 2119.0 L1497.0 2136.0 L1546.0 2153.0" fill="none" stroke="#1e1e1e" stroke-width="2.4" stroke-linecap="round" stroke-linejoin="round"/>
<text x="1878.2" y="2142.2" font-family="'Liberation Sans','DejaVu Sans',sans-serif" font-size="32" letter-spacing="0.4" text-anchor="middle" fill="#1e1e1e" stroke="#1e1e1e" stroke-width="0.4">up ctp create</text>
<path d="M2277.0 2231.0 L2018.0 2229.0" fill="none" stroke="#1e1e1e" stroke-width="2.8" stroke-linecap="round" stroke-linejoin="round"/>
<path d="M1742.0 2231.5 L1070.0 2232.5" fill="none" stroke="#1e1e1e" stroke-width="2" stroke-linecap="round" stroke-linejoin="round"/>
<path d="M1742.0 2234.0 L1070.0 2232.5" fill="none" stroke="#1e1e1e" stroke-width="1.6" stroke-linecap="round" stroke-linejoin="round"/>
<path d="M1118.0 2215.0 L1070.0 2232.5 L1118.0 2249.0" fill="none" stroke="#1e1e1e" stroke-width="2.4" stroke-linecap="round" stroke-linejoin="round"/>
<text x="1880.2" y="2216.2" font-family="'Liberation Sans','DejaVu Sans',sans-serif" font-size="32" letter-spacing="0.4" text-anchor="middle" fill="#1e1e1e" stroke="#1e1e1e" stroke-width="0.4">up alpha migration</text>
<text x="1880.2" y="2260.2" font-family="'Liberation Sans','DejaVu Sans',sans-serif" font-size="32" letter-spacing="0.4" text-anchor="middle" fill="#1e1e1e" stroke="#1e1e1e" stroke-width="0.4">import</text>
<path d="M2328.2 2238.0 L2328.8 2673.0" fill="none" stroke="#1e1e1e" stroke-width="1.8" stroke-linecap="round" stroke-linejoin="round"/>
<path d="M2331.2 2240.0 L2331.8 2673.0" fill="none" stroke="#1e1e1e" stroke-width="1.8" stroke-linecap="round" stroke-linejoin="round"/>
<path d="M2331.2 2803.0 L2331.0 3242.0" fill="none" stroke="#1e1e1e" stroke-width="2.8" stroke-linecap="round" stroke-linejoin="round"/>
<path d="M2313.5 3195.5 L2331.0 3242.0 L2348.5 3195.5" fill="none" stroke="#1e1e1e" stroke-width="2.4" stroke-linecap="round" stroke-linejoin="round"/>
<text x="2326.2" y="2705.2" font-family="'Liberation Sans','DejaVu Sans',sans-serif" font-size="32" letter-spacing="0.4" text-anchor="middle" fill="#1e1e1e" stroke="#1e1e1e" stroke-width="0.4">cleanup</text>
<text x="2329.2" y="2748.2" font-family="'Liberation Sans','DejaVu Sans',sans-serif" font-size="32" letter-spacing="0.4" text-anchor="middle" fill="#1e1e1e" stroke="#1e1e1e" stroke-width="0.4">crossplane</text>
<text x="2329.2" y="2791.7" font-family="'Liberation Sans','DejaVu Sans',sans-serif" font-size="32" letter-spacing="0.4" text-anchor="middle" fill="#1e1e1e" stroke="#1e1e1e" stroke-width="0.4">components</text>
<path d="M2549.3 2228.0 L2549.3 2526.5" fill="none" stroke="#1e1e1e" stroke-width="1.8" stroke-linecap="round" stroke-linejoin="round"/>
<path d="M2551.2 2229.0 L2552.4 2526.5" fill="none" stroke="#1e1e1e" stroke-width="1.8" stroke-linecap="round" stroke-linejoin="round"/>
<path d="M2551.0 2614.5 L2551.6 3140.0 L2556.7 3424.0" fill="none" stroke="#1e1e1e" stroke-width="1.8" stroke-linecap="round" stroke-linejoin="round"/>
<path d="M2552.4 2614.5 L2555.3 3140.0 L2556.7 3424.0" fill="none" stroke="#1e1e1e" stroke-width="1.8" stroke-linecap="round" stroke-linejoin="round"/>
<path d="M2540.0 3379.0 L2556.7 3424.0 L2574.0 3379.0" fill="none" stroke="#1e1e1e" stroke-width="2.4" stroke-linecap="round" stroke-linejoin="round"/>
<text x="2547.2" y="2560.2" font-family="'Liberation Sans','DejaVu Sans',sans-serif" font-size="32" letter-spacing="0.4" text-anchor="middle" fill="#1e1e1e" stroke="#1e1e1e" stroke-width="0.4">install</text>
<text x="2551.2" y="2603.2" font-family="'Liberation Sans','DejaVu Sans',sans-serif" font-size="32" letter-spacing="0.4" text-anchor="middle" fill="#1e1e1e" stroke="#1e1e1e" stroke-width="0.4">mcp-connector</text>
<path d="M1120.0 4040.0 L1694.0 4234.0" fill="none" stroke="#1e1e1e" stroke-width="1.8" stroke-linecap="round" stroke-linejoin="round"/>
<path d="M1120.5 4042.5 L1693.5 4237.0" fill="none" stroke="#1e1e1e" stroke-width="1.8" stroke-linecap="round" stroke-linejoin="round"/>
<path d="M1858.6 4292.5 L2204.6 4425.6" fill="none" stroke="#1e1e1e" stroke-width="1.8" stroke-linecap="round" stroke-linejoin="round"/>
<path d="M1858.0 4295.5 L2204.6 4425.6" fill="none" stroke="#1e1e1e" stroke-width="1.8" stroke-linecap="round" stroke-linejoin="round"/>
<path d="M2166.0 4395.0 L2204.6 4425.8 L2153.0 4427.7" fill="none" stroke="#1e1e1e" stroke-width="2.4" stroke-linecap="round" stroke-linejoin="round"/>
<text x="1772.2" y="4257.0" font-family="'Liberation Sans','DejaVu Sans',sans-serif" font-size="32" letter-spacing="0.4" text-anchor="middle" fill="#1e1e1e" stroke="#1e1e1e" stroke-width="0.4">claim will</text>
<text x="1775.7" y="4299.0" font-family="'Liberation Sans','DejaVu Sans',sans-serif" font-size="32" letter-spacing="0.4" text-anchor="middle" fill="#1e1e1e" stroke="#1e1e1e" stroke-width="0.4">be restored</text>
<ellipse cx="2261.0" cy="1693.0" rx="37.4" ry="45.2" fill="none" stroke="#1e1e1e" stroke-width="2.7"/>
<text x="2261.7" y="1704.3" font-family="'Liberation Sans','DejaVu Sans',sans-serif" font-size="32" letter-spacing="0.4" text-anchor="middle" fill="#1e1e1e" stroke="#1e1e1e" stroke-width="0.4">1.</text>
<ellipse cx="2090.0" cy="2055.0" rx="37.4" ry="45.2" fill="none" stroke="#1e1e1e" stroke-width="2.7"/>
<text x="2090.7" y="2066.3" font-family="'Liberation Sans','DejaVu Sans',sans-serif" font-size="32" letter-spacing="0.4" text-anchor="middle" fill="#1e1e1e" stroke="#1e1e1e" stroke-width="0.4">2.</text>
<ellipse cx="2098.7" cy="2300.0" rx="37.4" ry="45.2" fill="none" stroke="#1e1e1e" stroke-width="2.7"/>
<text x="2099.4" y="2311.3" font-family="'Liberation Sans','DejaVu Sans',sans-serif" font-size="32" letter-spacing="0.4" text-anchor="middle" fill="#1e1e1e" stroke="#1e1e1e" stroke-width="0.4">3.</text>
<ellipse cx="2204.0" cy="2675.5" rx="37.4" ry="45.2" fill="none" stroke="#1e1e1e" stroke-width="2.7"/>
<text x="2204.7" y="2686.8" font-family="'Liberation Sans','DejaVu Sans',sans-serif" font-size="32" letter-spacing="0.4" text-anchor="middle" fill="#1e1e1e" stroke="#1e1e1e" stroke-width="0.4">4.</text>
<ellipse cx="2752.0" cy="2509.0" rx="37.4" ry="45.2" fill="none" stroke="#1e1e1e" stroke-width="2.7"/>
<text x="2752.7" y="2520.3" font-family="'Liberation Sans','DejaVu Sans',sans-serif" font-size="32" letter-spacing="0.4" text-anchor="middle" fill="#1e1e1e" stroke="#1e1e1e" stroke-width="0.4">5.</text>
<ellipse cx="1762.5" cy="4094.7" rx="37.4" ry="45.2" fill="none" stroke="#1e1e1e" stroke-width="2.7"/>
<text x="1763.2" y="4106.0" font-family="'Liberation Sans','DejaVu Sans',sans-serif" font-size="32" letter-spacing="0.4" text-anchor="middle" fill="#1e1e1e" stroke="#1e1e1e" stroke-width="0.4">6.</text>
</svg></body></html>
